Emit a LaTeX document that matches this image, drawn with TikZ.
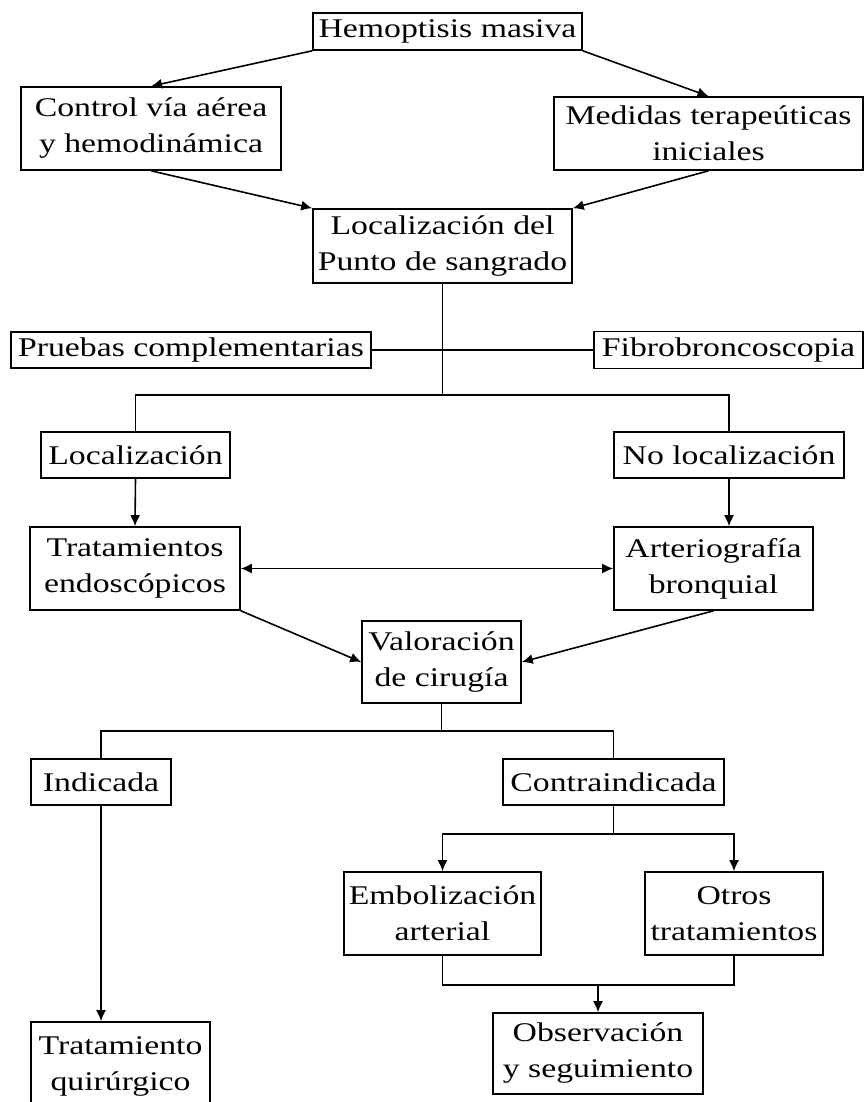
\documentclass[tikz,border=0pt]{standalone}
\usepackage{fontspec}
\setmainfont{Liberation Serif}[FakeStretch=1.25]
\usetikzlibrary{arrows.meta}
\tikzset{box/.style={draw,line width=1.6pt,inner sep=0pt,align=center,font=\fontsize{27}{36}\selectfont}}
\tikzset{arr/.style={-{Latex[length=11pt,width=10pt]}}}

\begin{document}
\begin{tikzpicture}[x=1pt,y=-1pt,line width=1.6pt]
            \useasboundingbox (0,0) rectangle (865,1102);
            \clip (0,0) rectangle (865,1102);

            \node[box,minimum width=269pt,minimum height=37pt] (hemo) at (447.5,31.5) {Hemoptisis masiva};
            \node[box,minimum width=260pt,minimum height=83pt] (control) at (151,128.5) {Control vía aérea\\y hemodinámica};
            \node[box,minimum width=309pt,minimum height=73pt] (medidas) at (708.5,133.5) {Medidas terapeúticas\\iniciales};
            \node[box,minimum width=259pt,minimum height=74pt] (punto) at (442.5,246) {Localización del\\Punto de sangrado};
            \node[box,minimum width=360pt,minimum height=36pt] (pruebas) at (191,350) {Pruebas complementarias};
            \node[box,minimum width=269pt,minimum height=37pt] (fibro) at (728.5,350) {Fibrobroncoscopia};
            \node[box,minimum width=189pt,minimum height=46pt] (loc) at (135.5,455) {Localización};
            \node[box,minimum width=230pt,minimum height=46pt] (noloc) at (729,455) {No localización};
            \node[box,minimum width=210pt,minimum height=83pt] (endo) at (135,568.5) {Tratamientos\\endoscópicos};
            \node[box,minimum width=199pt,minimum height=83pt] (arterio) at (713.5,568.5) {Arteriografía\\bronquial};
            \node[box,minimum width=159pt,minimum height=82pt] (valor) at (441.5,662) {Valoración\\de cirugía};
            \node[box,minimum width=140pt,minimum height=46pt] (indic) at (101,782) {Indicada};
            \node[box,minimum width=221pt,minimum height=46pt] (contra) at (613.5,782) {Contraindicada};
            \node[box,minimum width=197pt,minimum height=83pt] (embol) at (442.5,913.5) {Embolización\\arterial};
            \node[box,minimum width=178pt,minimum height=83pt] (otros) at (734,913.5) {Otros\\tratamientos};
            \node[box,minimum width=210pt,minimum height=81pt] (observ) at (598,1053.5) {Observación\\y seguimiento};
            \node[box,minimum width=179pt,minimum height=88pt] (quirur) at (120.5,1066) {Tratamiento\\quirúrgico};

            \coordinate (split1) at (punto.south |- 0,395);
            \coordinate (split2) at (valor.south |- 0,731);
            \coordinate (split3) at (contra.south |- 0,834);
            \coordinate (join) at (observ.north |- 0,985);

            \draw[arr] (hemo.south west) -- (control.north);
            \draw[arr] (hemo.south east) -- (medidas.north);
            \draw[arr] (control.south) -- (punto.north west);
            \draw[arr] (medidas.south) -- (punto.north east);

            \draw (punto.south) -- (split1);
            \draw (pruebas.east) -- (fibro.west);
            \draw (loc.north) |- (split1) -| (noloc.north);
            \draw[arr] (loc.south) -- (endo.north);
            \draw[arr] (noloc.south) -- (noloc.south |- arterio.north);
            \draw[{Latex[length=11pt,width=10pt]}-{Latex[length=11pt,width=10pt]}] (endo.east) -- (arterio.west);
            \draw[arr] (endo.south east) -- (valor.west);
            \draw[arr] (arterio.south) -- (valor.east);

            \draw (valor.south) -- (split2);
            \draw (indic.north) |- (split2) -| (contra.north);
            \draw[arr] (indic.south) -- (indic.south |- quirur.north);
            \draw (contra.south) -- (split3);
            \draw[arr] (split3) -| (embol.north);
            \draw[arr] (split3) -| (otros.north);
            \draw (embol.south) |- (join) -| (otros.south);
            \draw[arr] (join) -- (observ.north);
        \end{tikzpicture}
\end{document}
